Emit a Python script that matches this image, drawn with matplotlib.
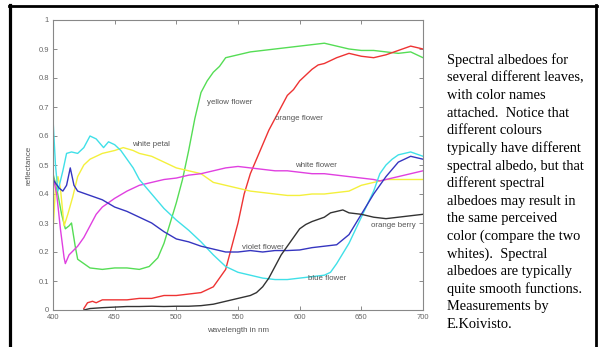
import matplotlib.pyplot as plt
from matplotlib.lines import Line2D

# reflectance curves (wavelength in nm, reflectance 0..1)
yellow_flower_wl = [400, 403, 407, 410, 413, 415, 418, 420, 425, 430, 440, 450, 460, 470, 478, 485,
                    490, 495, 500, 505, 510, 515, 520, 525, 530, 535, 540, 550, 560, 570, 580, 590,
                    600, 610, 620, 630, 640, 650, 660, 670, 680, 690, 700]
yellow_flower = [0.47, 0.42, 0.33, 0.28, 0.29, 0.30, 0.22, 0.175, 0.16, 0.145, 0.14, 0.145, 0.145, 0.14,
                 0.15, 0.18, 0.23, 0.30, 0.37, 0.45, 0.55, 0.66, 0.75, 0.79, 0.82, 0.84, 0.87, 0.88,
                 0.89, 0.895, 0.90, 0.905, 0.91, 0.915, 0.92, 0.91, 0.90, 0.895, 0.895, 0.89, 0.885,
                 0.89, 0.87]

orange_flower_wl = [425, 428, 432, 435, 440, 450, 460, 470, 480, 490, 500, 510, 520, 525, 530, 535,
                    540, 545, 550, 555, 560, 565, 570, 575, 580, 585, 590, 595, 600, 605, 610, 615,
                    620, 630, 640, 650, 660, 670, 680, 690, 700]
orange_flower = [0.005, 0.025, 0.03, 0.025, 0.035, 0.035, 0.035, 0.04, 0.04, 0.05, 0.05, 0.055, 0.06,
                 0.07, 0.08, 0.11, 0.14, 0.22, 0.30, 0.40, 0.47, 0.52, 0.57, 0.62, 0.66, 0.70, 0.74,
                 0.76, 0.79, 0.81, 0.83, 0.845, 0.85, 0.87, 0.885, 0.875, 0.87, 0.88, 0.895, 0.91, 0.90]

white_petal_wl = [400, 402, 404, 406, 409, 412, 416, 420, 425, 430, 440, 450, 457, 465, 470, 480, 490,
                  500, 510, 520, 530, 540, 550, 560, 570, 580, 590, 600, 610, 620, 630, 640, 650, 660,
                  670, 680, 690, 700]
white_petal = [0.27, 0.42, 0.46, 0.42, 0.29, 0.33, 0.39, 0.46, 0.50, 0.52, 0.54, 0.55, 0.56, 0.55,
               0.54, 0.53, 0.51, 0.49, 0.48, 0.47, 0.44, 0.43, 0.42, 0.41, 0.405, 0.40, 0.395, 0.395,
               0.40, 0.40, 0.405, 0.41, 0.43, 0.44, 0.45, 0.45, 0.45, 0.45]

white_flower_wl = [400, 403, 406, 409, 410, 413, 420, 425, 430, 435, 440, 450, 460, 470, 480, 490, 500,
                   510, 520, 530, 540, 550, 560, 570, 580, 590, 600, 610, 620, 630, 640, 650, 660, 665,
                   670, 680, 690, 700]
white_flower = [0.46, 0.40, 0.28, 0.18, 0.16, 0.19, 0.22, 0.25, 0.29, 0.33, 0.355, 0.385, 0.41, 0.43,
                0.44, 0.45, 0.455, 0.465, 0.47, 0.48, 0.49, 0.495, 0.49, 0.485, 0.48, 0.48, 0.475,
                0.47, 0.47, 0.465, 0.46, 0.455, 0.45, 0.445, 0.45, 0.46, 0.47, 0.48]

blue_flower_wl = [400, 402, 404, 408, 411, 415, 420, 425, 430, 435, 438, 441, 445, 450, 455, 460, 465,
                  470, 480, 490, 500, 510, 520, 530, 540, 550, 560, 570, 580, 590, 600, 610, 620, 625,
                  630, 640, 650, 660, 665, 670, 675, 680, 690, 700]
blue_flower = [0.66, 0.50, 0.41, 0.48, 0.54, 0.545, 0.54, 0.56, 0.60, 0.59, 0.575, 0.56, 0.58, 0.57,
               0.55, 0.52, 0.49, 0.45, 0.40, 0.35, 0.31, 0.275, 0.235, 0.19, 0.15, 0.13, 0.12, 0.11,
               0.105, 0.105, 0.11, 0.115, 0.12, 0.13, 0.16, 0.23, 0.32, 0.41, 0.47, 0.50, 0.52, 0.535,
               0.545, 0.53]

violet_flower_wl = [400, 405, 408, 411, 414, 417, 420, 430, 440, 450, 460, 470, 480, 490, 500, 510, 520,
                    530, 540, 550, 560, 570, 580, 590, 600, 610, 620, 630, 640, 650, 660, 670, 680,
                    690, 700]
violet_flower = [0.45, 0.42, 0.41, 0.43, 0.49, 0.43, 0.41, 0.395, 0.38, 0.355, 0.34, 0.32, 0.30, 0.27,
                 0.245, 0.235, 0.22, 0.21, 0.20, 0.20, 0.205, 0.20, 0.205, 0.205, 0.207, 0.215, 0.22,
                 0.225, 0.26, 0.33, 0.40, 0.46, 0.51, 0.53, 0.52]

orange_berry_wl = [425, 430, 440, 450, 460, 470, 480, 490, 500, 510, 520, 530, 540, 550, 560, 565, 570,
                   575, 580, 585, 590, 595, 600, 605, 610, 620, 625, 630, 635, 640, 650, 660, 670, 680,
                   690, 700]
orange_berry = [0.0, 0.005, 0.008, 0.01, 0.012, 0.012, 0.013, 0.012, 0.013, 0.013, 0.015, 0.02, 0.03,
                0.04, 0.05, 0.06, 0.08, 0.11, 0.15, 0.19, 0.22, 0.25, 0.28, 0.295, 0.305, 0.32, 0.335,
                0.34, 0.345, 0.335, 0.33, 0.32, 0.315, 0.32, 0.325, 0.33]

x_ticks = [400, 450, 500, 550, 600, 650, 700]
y_ticks = [0, 0.1, 0.2, 0.3, 0.4, 0.5, 0.6, 0.7, 0.8, 0.9, 1]
y_tick_labels = ['0', '0.1', '0.2', '0.3', '0.4', '0.5', '0.6', '0.7', '0.8', '0.9', '1']

caption_lines = [
    "Spectral albedoes for",
    "several different leaves,",
    "with color names",
    "attached.  Notice that",
    "different colours",
    "typically have different",
    "spectral albedo, but that",
    "different spectral",
    "albedoes may result in",
    "the same perceived",
    "color (compare the two",
    "whites).  Spectral",
    "albedoes are typically",
    "quite smooth functions.",
    "Measurements by",
    "E.Koivisto.",
]

curves = [
    (yellow_flower_wl, yellow_flower, '#55dd55'),
    (orange_flower_wl, orange_flower, '#ee3333'),
    (white_petal_wl, white_petal, '#f4f03c'),
    (white_flower_wl, white_flower, '#e040e0'),
    (blue_flower_wl, blue_flower, '#40e0e8'),
    (violet_flower_wl, violet_flower, '#3535c0'),
    (orange_berry_wl, orange_berry, '#333333'),
]

# (text, wavelength, reflectance) for the in-plot names
curve_names = [
    ('yellow flower', 525, 0.714),
    ('orange flower', 580, 0.662),
    ('white petal', 464, 0.572),
    ('white flower', 596, 0.497),
    ('violet flower', 553, 0.217),
    ('blue flower', 607, 0.107),
    ('orange berry', 658, 0.293),
]

W, H = 601, 347
fig = plt.figure(figsize=(W / 100, H / 100), dpi=100)
ax = fig.add_axes([53 / W, 1 - 310 / H, 370 / W, 290 / H])

for wl, vals, col in curves:
    ax.plot(wl, vals, color=col, lw=1.0)

for name, wl, val in curve_names:
    ax.text(wl, val, name, fontsize=5.7, family='Liberation Sans', color='#555555',
            ha='left', va='center')

ax.set_xlim(400, 700)
ax.set_ylim(0, 1)
ax.set_xticks(x_ticks)
ax.set_xticklabels([str(t) for t in x_ticks])
ax.set_yticks(y_ticks)
ax.set_yticklabels(y_tick_labels)
ax.tick_params(direction='in', length=3, width=0.6, color='#777777', labelsize=5.5,
               labelcolor='#666666', top=True, right=True, pad=3)
for lab in ax.get_xticklabels() + ax.get_yticklabels():
    lab.set_family('Liberation Sans')
for sp in ax.spines.values():
    sp.set_color('#888888')
    sp.set_linewidth(0.8)

ax.set_xlabel('wavelength in nm', fontsize=5.8, family='Liberation Sans', color='#555555')
ax.set_ylabel('reflectance', fontsize=5.8, family='Liberation Sans', color='#555555')
ax.xaxis.set_label_coords(0.5, -0.06)
ax.yaxis.set_label_coords(-0.055, 0.5)

# caption on the right, one line at a time
for i, line in enumerate(caption_lines):
    y_px = 64 + 17.6 * i
    fig.text(447 / W, 1 - y_px / H, line, fontsize=10.4, family='Liberation Serif',
             color='black', ha='left', va='baseline')

# slide frame: left, top and right edges
fig.add_artist(Line2D([9.5 / W, 9.5 / W], [0, 1 - 5 / H], color='black', lw=2.3))
fig.add_artist(Line2D([8.5 / W, 597 / W], [1 - 6 / H, 1 - 6 / H], color='black', lw=2.0))
fig.add_artist(Line2D([596 / W, 596 / W], [0, 1 - 5 / H], color='black', lw=2.0))

fig.savefig('out.png', dpi=100)
